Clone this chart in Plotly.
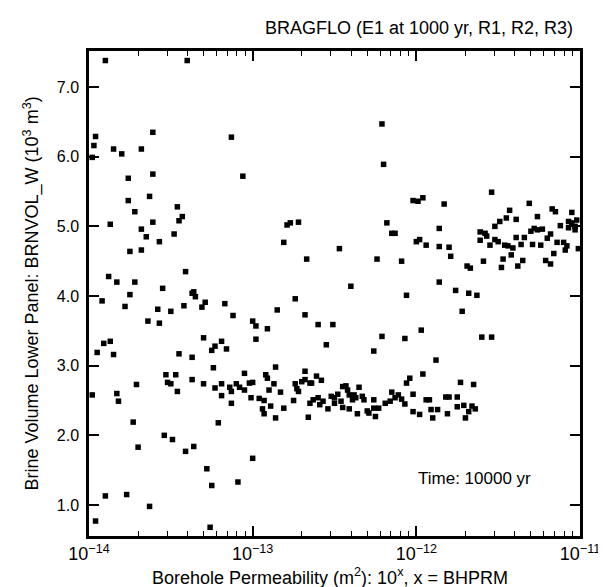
import plotly.graph_objects as go

# BHPRM (log10 of borehole permeability) and BRNVOL_W (10^3 m^3)
bhprm_left = [
    -13.90, -13.40, -13.96, -13.61, -13.97, -13.85, -13.80, -13.68, -13.98, -13.76, -13.61, -13.76, -13.63, -13.46,
    -13.72, -13.87, -13.61, -13.43, -13.45, -13.68, -13.65, -13.57, -13.48, -13.75, -13.68, -13.88, -13.83, -13.72,
    -13.41, -13.37, -13.55, -13.75, -13.92, -13.78, -13.58, -13.50, -13.42, -13.64, -13.57, -13.91, -13.87, -13.95,
    -13.85, -13.45, -13.37,
    -13.53, -13.47, -13.52, -13.50, -13.46, -13.37, -13.71, -13.83, -13.82, -13.98, -13.73, -13.54, -13.49, -13.70,
    -13.41, -13.36, -13.90, -13.77, -13.63, -13.96,
]
brnvol_left = [
    7.38, 7.38, 6.29, 6.35, 6.16, 6.11, 6.04, 6.11, 5.99, 5.69, 5.75, 5.37, 5.43, 5.28,
    5.21, 5.03, 5.06, 5.14, 5.08, 4.96, 4.85, 4.78, 4.89, 4.64, 4.66, 4.28, 4.20, 4.20,
    4.35, 4.04, 4.11, 4.02, 3.93, 3.85, 3.81, 3.78, 3.86, 3.64, 3.61, 3.32, 3.35, 3.19,
    3.16, 3.17, 3.12,
    2.87, 2.87, 2.76, 2.74, 2.63, 2.80, 2.73, 2.60, 2.49, 2.58, 2.19, 2.00, 1.94, 1.83,
    1.77, 1.84, 1.13, 1.15, 0.98, 0.77,
]

bhprm_mid = [
    -13.13, -13.06,
    -12.79, -12.77, -12.72, -12.81, -12.67, -13.36, -13.35, -13.29, -13.31, -13.17, -13.12, -13.00, -12.98, -12.91,
    -12.98, -12.85, -12.74, -12.68, -13.30, -13.23, -13.25, -13.19, -13.16, -13.24, -12.86,
    -13.30, -13.23, -13.19, -13.19, -13.14, -13.13, -13.10, -13.08, -13.05, -13.05, -13.02, -13.00, -13.13, -13.01,
    -12.96, -12.93, -12.94, -12.93, -12.92, -12.91, -12.90, -12.87, -12.89, -12.83, -12.81, -12.86, -12.75, -12.74,
    -12.73, -12.72, -12.70, -12.68, -12.65, -12.65, -12.66, -13.21, -13.28, -13.25, -13.09, -13.00, -13.26,
]
brnvol_mid = [
    6.28, 5.72,
    5.02, 5.05, 5.06, 4.77, 4.53, 4.06, 3.99, 3.91, 3.84, 3.89, 3.72, 3.64, 3.57, 3.53,
    3.38, 3.80, 3.96, 3.73, 3.40, 3.28, 3.22, 3.35, 3.24, 2.97, 2.98,
    2.74, 2.68, 2.74, 2.57, 2.69, 2.63, 2.74, 2.69, 2.89, 2.65, 2.75, 2.76, 2.46, 2.54,
    2.53, 2.50, 2.38, 2.31, 2.87, 2.82, 2.65, 2.74, 2.42, 2.62, 2.39, 2.25, 2.50, 2.74,
    2.67, 2.63, 2.77, 2.92, 2.75, 2.46, 2.26, 2.18, 1.52, 1.28, 1.33, 1.67, 0.68,
]

bhprm_right = [
    -12.21, -12.20, -12.02, -11.99, -11.96, -11.83, -12.18, -12.15, -12.13, -12.00, -11.98, -11.94, -11.86, -11.86,
    -12.47, -12.24, -12.09, -11.86, -12.40, -12.06, -12.60, -12.51, -12.55, -12.21, -12.07, -11.97, -12.26, -11.88,
    -11.96,
    -12.68, -12.64, -12.61, -12.58, -12.63, -12.60, -12.59, -12.57, -12.54, -12.52, -12.50, -12.50, -12.48, -12.46,
    -12.45, -12.43, -12.45, -12.42, -12.41, -12.39, -12.41, -12.38, -12.37, -12.36, -12.35, -12.33, -12.32, -12.30,
    -12.29, -12.26, -12.25, -12.26, -12.23, -12.19, -12.16, -12.15, -12.13, -12.11, -12.09, -12.07, -12.06, -12.04,
    -12.02, -12.02, -11.98, -11.94, -11.92, -11.91, -11.90, -11.87,
    -11.54, -11.31, -11.80, -11.79, -11.69, -11.67, -11.76, -11.68, -11.63, -11.61, -11.61, -11.58, -11.57, -11.55,
    -11.52, -11.49, -11.52, -11.50, -11.59, -11.48, -11.47, -11.46, -11.45, -11.43, -11.44, -11.42, -11.41, -11.39,
    -11.39, -11.38, -11.36, -11.34, -11.35, -11.30, -11.29, -11.28, -11.26, -11.26, -11.24, -11.23, -11.21, -11.18,
    -11.20, -11.18, -11.16, -11.17, -11.15, -11.14, -11.12, -11.10, -11.09, -11.08, -11.07, -11.07, -11.05, -11.05,
    -11.03, -11.02, -11.01, -11.03,
    -11.72, -11.60, -11.54, -11.73, -11.65, -11.82, -11.80, -11.75, -11.81, -11.75, -11.71, -11.70, -11.68, -11.66,
    -11.64,
]
brnvol_right = [
    6.47, 5.89, 5.37, 5.36, 5.41, 5.32, 5.05, 4.90, 4.90, 4.78, 4.81, 4.73, 4.97, 4.71,
    4.68, 4.53, 4.50, 4.20, 4.14, 4.01, 3.59, 3.59, 3.30, 3.42, 3.39, 3.51, 3.21, 3.08,
    2.88,
    2.80, 2.75, 2.85, 2.79, 2.51, 2.54, 2.44, 2.49, 2.38, 2.56, 2.54, 2.46, 2.59, 2.49,
    2.70, 2.71, 2.40, 2.65, 2.58, 2.51, 2.38, 2.58, 2.54, 2.31, 2.69, 2.56, 2.51, 2.35,
    2.32, 2.51, 2.27, 2.39, 2.39, 2.46, 2.49, 2.62, 2.54, 2.58, 2.52, 2.45, 2.75, 2.82,
    2.59, 2.34, 2.30, 2.51, 2.51, 2.37, 2.25, 2.37,
    5.49, 5.33, 4.70, 4.57, 4.43, 4.40, 4.08, 4.04, 4.01, 4.80, 4.92, 4.90, 4.86, 4.73,
    5.00, 5.07, 4.81, 4.78, 4.50, 4.41, 4.53, 4.73, 5.12, 5.23, 4.72, 4.59, 4.69, 5.10,
    4.84, 4.43, 4.74, 4.84, 4.51, 4.93, 4.74, 4.97, 5.14, 4.95, 4.73, 4.96, 4.51, 4.46,
    4.83, 4.89, 4.61, 5.25, 5.21, 4.77, 5.01, 4.77, 4.66, 4.72, 4.98, 5.07, 5.20, 5.05,
    4.95, 5.09, 4.68, 5.00,
    3.78, 3.41, 3.41, 2.76, 2.73, 2.55, 2.55, 2.55, 2.31, 2.41, 2.43, 2.25, 2.34, 2.42,
    2.38,
]

x_tickvals = [1e-14, 1e-13, 1e-12, 1e-11]
x_ticktext = ['10<sup>\u221214</sup>', '10<sup>\u221213</sup>', '10<sup>\u221212</sup>', '10<sup>\u221211</sup>']
y_tickvals = [1, 2, 3, 4, 5, 6, 7]
y_ticktext = ['1.0', '2.0', '3.0', '4.0', '5.0', '6.0', '7.0']

FONT = 'Liberation Sans, Arial, Helvetica, sans-serif'

bhprm = bhprm_left + bhprm_mid + bhprm_right
brnvol = brnvol_left + brnvol_mid + brnvol_right
permeability = [10 ** b for b in bhprm]

# minor log ticks 2..9 in each decade
minor_vals = [k * 10.0 ** e for e in (-14, -13, -12) for k in range(2, 10)]

fig = go.Figure()
fig.add_trace(
    go.Scatter(
        x=permeability,
        y=brnvol,
        mode='markers',
        marker=dict(symbol='square', size=5.5, color='black'),
        showlegend=False,
    )
)

fig.update_layout(
    width=606,
    height=587,
    margin=dict(l=81, r=34, t=43, b=59),
    paper_bgcolor='white',
    plot_bgcolor='white',
    font=dict(family=FONT, size=16, color='black'),
    showlegend=False,
    xaxis=dict(
        type='log',
        range=[-14, -11],
        tickmode='array',
        tickvals=x_tickvals,
        ticktext=x_ticktext,
        ticks='inside',
        ticklen=10,
        tickwidth=1.5,
        tickcolor='black',
        showline=True,
        linewidth=2.5,
        linecolor='black',
        mirror='ticks',
        showgrid=False,
        zeroline=False,
        tickfont=dict(size=18),
        minor=dict(tickmode='array', tickvals=minor_vals, ticks='inside',
                   ticklen=5, tickwidth=1, tickcolor='black', showgrid=False),
    ),
    yaxis=dict(
        range=[0.555, 7.517],
        tickmode='array',
        tickvals=y_tickvals,
        ticktext=y_ticktext,
        ticks='inside',
        ticklen=10,
        tickwidth=1.5,
        tickcolor='black',
        showline=True,
        linewidth=2.5,
        linecolor='black',
        mirror='ticks',
        showgrid=False,
        zeroline=False,
        ticklabelstandoff=4,
        tickfont=dict(size=16),
    ),
    annotations=[
        dict(
            text='BRAGFLO (E1 at 1000 yr, R1, R2, R3)',
            xref='paper', yref='paper', x=0.99, y=1.047,
            xanchor='right', yanchor='middle', showarrow=False,
            font=dict(size=18),
        ),
        dict(
            text='Time: 10000 yr',
            xref='paper', yref='paper', x=0.904, y=0.118,
            xanchor='right', yanchor='middle', showarrow=False,
            font=dict(size=17),
        ),
        dict(
            text='Borehole Permeability (m<sup>2</sup>): 10<sup>x</sup>, x = BHPRM',
            xref='paper', yref='paper', x=0.491, y=-0.083,
            xanchor='center', yanchor='middle', showarrow=False,
            font=dict(size=18),
        ),
        dict(
            text='Brine Volume Lower Panel: BRNVOL_W (10<sup>3</sup> m<sup>3</sup>)',
            xref='paper', yref='paper', x=-0.118, y=0.5,
            xanchor='center', yanchor='middle', showarrow=False,
            textangle=-90,
            font=dict(size=18),
        ),
    ],
)

fig.write_html("out.html")
